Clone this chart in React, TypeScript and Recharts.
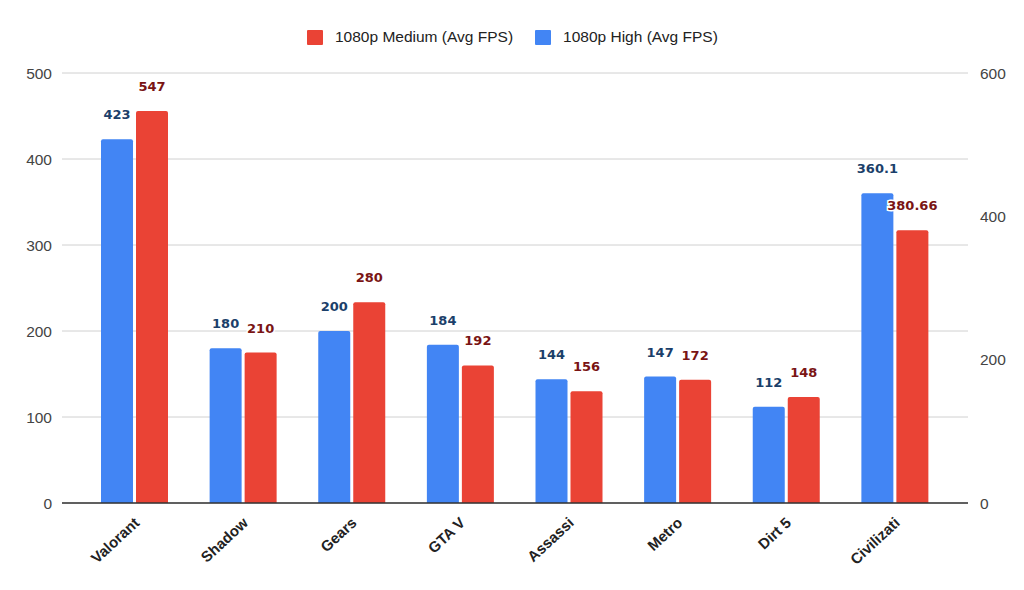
import React from 'react';
import { BarChart, Bar, XAxis, YAxis, CartesianGrid, LabelList } from 'recharts';

const games = ['Valorant', 'Shadow', 'Gears', 'GTA V', 'Assassi', 'Metro', 'Dirt 5', 'Civilizati'];
const highFps = [423, 180, 200, 184, 144, 147, 112, 360.1];
const mediumFps = [547, 210, 280, 192, 156, 172, 148, 380.66];
const leftTicks = [0, 100, 200, 300, 400, 500];
const rightTicks = [0, 200, 400, 600];

const data = games.map((game, i) => ({ game, high: highFps[i], medium: mediumFps[i] }));

const BLUE = '#4285F4';
const RED = '#EA4335';
const FONT = '"Liberation Sans", Arial, sans-serif';

const GameTick = ({ x, y, payload }: any) => (
  <text
    x={x + 6}
    y={y + 13}
    transform={`rotate(-43, ${x + 6}, ${y + 13})`}
    textAnchor="end"
    fontFamily={FONT}
    fontSize={15}
    fontWeight="bold"
    fill="#222"
  >
    {payload.value}
  </text>
);

const valueLabel = (color: string) => (props: any) => {
  const { x, y, width, value } = props;
  return (
    <text
      x={x + width / 2}
      y={y - 20}
      textAnchor="middle"
      fontFamily='"DejaVu Sans", Verdana, sans-serif'
      fontSize={13}
      fontWeight="bold"
      fill={color}
      stroke="#fff"
      strokeWidth={3}
      paintOrder="stroke"
    >
      {value}
    </text>
  );
};

const legendItems = [
  { label: '1080p Medium (Avg FPS)', color: RED },
  { label: '1080p High (Avg FPS)', color: BLUE }
];

export default function App() {
  const tickStyle = { fill: '#444', fontSize: 15.5, fontFamily: FONT };
  return (
    <div style={{ position: 'absolute', left: 0, top: 0, width: 1024, height: 590, background: '#fff' }}>
      {/* legend */}
      <div
        style={{
          position: 'absolute',
          top: 28,
          left: 307,
          display: 'flex',
          alignItems: 'center',
          fontFamily: FONT,
          fontSize: 15.5,
          color: '#222',
          lineHeight: '18px'
        }}
      >
        {legendItems.map((item, i) => (
          <div key={item.label} style={{ display: 'flex', alignItems: 'center', marginRight: i === 0 ? 22 : 0 }}>
            <span style={{ width: 16, height: 15, background: item.color, borderRadius: 1, marginRight: 12, display: 'inline-block' }} />
            <span>{item.label}</span>
          </div>
        ))}
      </div>
      <BarChart
        width={1024}
        height={590}
        data={data}
        margin={{ top: 73, right: 0, bottom: 0, left: 0 }}
        barCategoryGap={20}
        barGap={3}
      >
        <CartesianGrid vertical={false} stroke="#d0d0d0" yAxisId="left" />
        <XAxis
          dataKey="game"
          height={87}
          interval={0}
          padding={{ left: 18, right: 19 }}
          tick={<GameTick />}
          tickLine={false}
          axisLine={{ stroke: '#333', strokeWidth: 1.5 }}
        />
        <YAxis
          yAxisId="left"
          orientation="left"
          width={62}
          domain={[0, 500]}
          ticks={leftTicks}
          tick={tickStyle}
          tickLine={false}
          axisLine={false}
          tickMargin={4}
        />
        <YAxis
          yAxisId="right"
          orientation="right"
          width={56}
          domain={[0, 600]}
          ticks={rightTicks}
          tick={tickStyle}
          tickLine={false}
          axisLine={false}
          tickMargin={6}
        />
        <Bar yAxisId="left" dataKey="high" name="1080p High (Avg FPS)" fill={BLUE} barSize={32} radius={[2, 2, 0, 0]} isAnimationActive={false}>
          <LabelList dataKey="high" content={valueLabel('#1b3f6a')} />
        </Bar>
        <Bar yAxisId="right" dataKey="medium" name="1080p Medium (Avg FPS)" fill={RED} barSize={32} radius={[2, 2, 0, 0]} isAnimationActive={false}>
          <LabelList dataKey="medium" content={valueLabel('#7a1414')} />
        </Bar>
      </BarChart>
    </div>
  );
}
